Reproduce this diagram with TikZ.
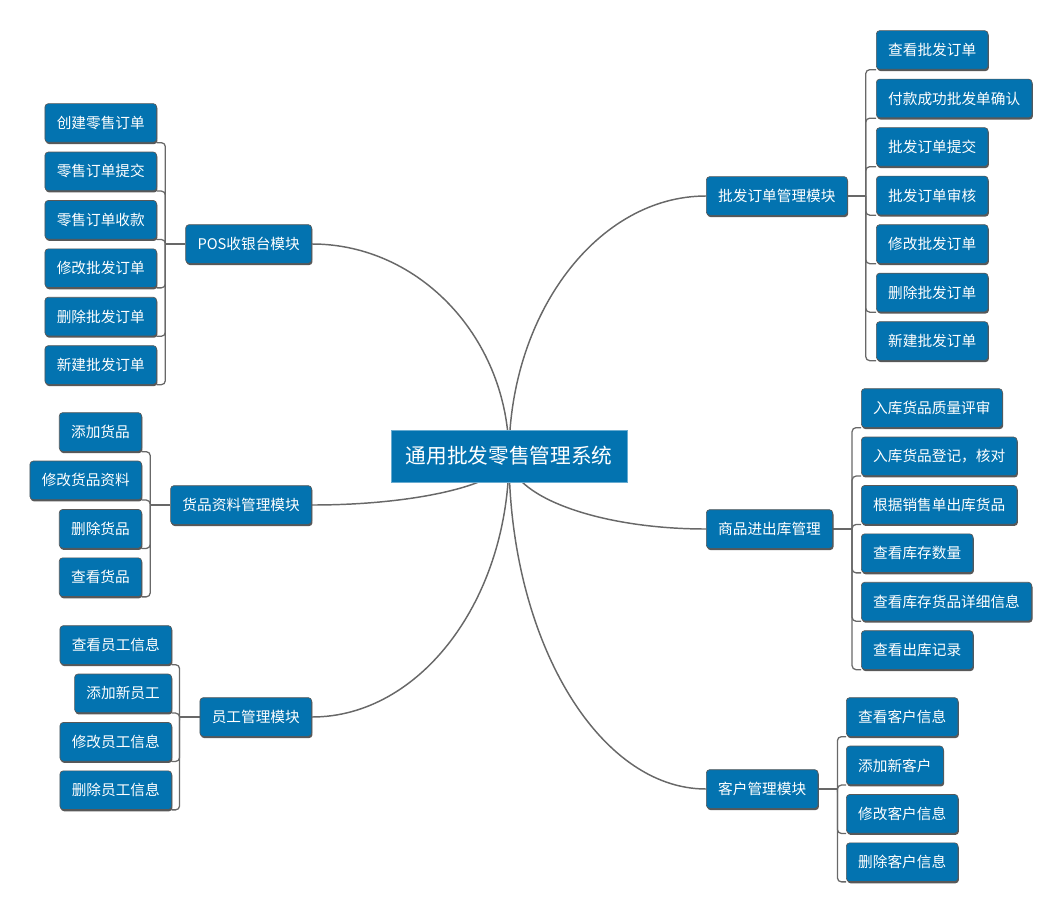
\documentclass[tikz,border=0pt]{standalone}
\usepackage{fontspec}
\setmainfont{Noto Sans CJK SC}
\usetikzlibrary{shadows,calc,backgrounds}
\definecolor{boxblue}{RGB}{3,115,176}
\definecolor{boxedge}{RGB}{88,88,88}
\definecolor{wire}{RGB}{104,104,104}
\begin{document}
\begin{tikzpicture}[x=0.75pt,y=-0.75pt,
  topic/.style={rounded corners=2.5pt, fill=boxblue, draw=boxedge, line width=0.5pt,
    text=white, font=\fontsize{11}{13}\selectfont, minimum height=29pt,
    inner xsep=8.9pt, inner ysep=0pt,
    drop shadow={shadow xshift=0.6pt, shadow yshift=-1.3pt, fill=boxedge, opacity=1}},
  rootbox/.style={fill=boxblue, draw=boxblue!60!white, line width=0.5pt, text=white,
    font=\fontsize{15.5}{18}\selectfont, minimum width=177pt, minimum height=39pt},
  curve/.style={draw=wire, line width=1.1pt},
  bracket/.style={draw=wire, line width=0.95pt, rounded corners=3pt}]
\useasboundingbox (0,0) rectangle (1063,913);

% central topic
\node[rootbox] (root) at (509,456) {通用批发零售管理系统};

% main branches
\node[topic, anchor=east] (pos)   at (312,244) {POS收银台模块};
\node[topic, anchor=east] (goods) at (312,505) {货品资料管理模块};
\node[topic, anchor=east] (staff) at (312,717) {员工管理模块};
\node[topic, anchor=west] (whole) at (706,196) {批发订单管理模块};
\node[topic, anchor=west] (stock) at (706,529) {商品进出库管理};
\node[topic, anchor=west] (cust)  at (706,789) {客户管理模块};

% sub-topics
\foreach \t [count=\i] in {创建零售订单,零售订单提交,零售订单收款,修改批发订单,删除批发订单,新建批发订单}
  \node[topic, anchor=east] (pos\i) at (157,{123+(\i-1)*48.4}) {\t};
\foreach \t [count=\i] in {添加货品,修改货品资料,删除货品,查看货品}
  \node[topic, anchor=east] (goods\i) at (142,{432+(\i-1)*48.4}) {\t};
\foreach \t [count=\i] in {查看员工信息,添加新员工,修改员工信息,删除员工信息}
  \node[topic, anchor=east] (staff\i) at (172,{645+(\i-1)*48.4}) {\t};
\foreach \t [count=\i] in {查看批发订单,付款成功批发单确认,批发订单提交,批发订单审核,修改批发订单,删除批发订单,新建批发订单}
  \node[topic, anchor=west] (whole\i) at (876,{50+(\i-1)*48.5}) {\t};
\foreach \t [count=\i] in {入库货品质量评审,入库货品登记，核对,根据销售单出库货品,查看库存数量,查看库存货品详细信息,查看出库记录}
  \node[topic, anchor=west] (stock\i) at (861,{408+(\i-1)*48.4}) {\t};
\foreach \t [count=\i] in {查看客户信息,添加新客户,修改客户信息,删除客户信息}
  \node[topic, anchor=west] (cust\i) at (846,{717+(\i-1)*48.4}) {\t};

% junction points of the brackets
\coordinate (posJ)   at ($(pos.west)+(-20,0)$);
\coordinate (goodsJ) at ($(goods.west)+(-20,0)$);
\coordinate (staffJ) at ($(staff.west)+(-20,0)$);
\coordinate (wholeJ) at ($(whole.east)+(18,0)$);
\coordinate (stockJ) at ($(stock.east)+(19,0)$);
\coordinate (custJ)  at ($(cust.east)+(19,0)$);

\begin{scope}[on background layer]
  % curved links from the central topic
  \draw[curve] (root.center) .. controls +(0,-117) and +(108,0) .. (pos.east);
  \draw[curve] (root.center) .. controls +(0,27) and +(108,0) .. (goods.east);
  \draw[curve] (root.center) .. controls +(0,144) and +(108,0) .. (staff.east);
  \draw[curve] (root.center) .. controls +(0,-143) and +(-108,0) .. (whole.west);
  \draw[curve] (root.center) .. controls +(0,40) and +(-108,0) .. (stock.west);
  \draw[curve] (root.center) .. controls +(0,183) and +(-108,0) .. (cust.west);

  % brackets to sub-topics
  \draw[bracket] (pos.west) -- (posJ);
  \foreach \i in {1,...,6} \draw[bracket] (posJ) |- (pos\i.south east);
  \draw[bracket] (goods.west) -- (goodsJ);
  \foreach \i in {1,...,4} \draw[bracket] (goodsJ) |- (goods\i.south east);
  \draw[bracket] (staff.west) -- (staffJ);
  \foreach \i in {1,...,4} \draw[bracket] (staffJ) |- (staff\i.south east);
  \draw[bracket] (whole.east) -- (wholeJ);
  \foreach \i in {1,...,7} \draw[bracket] (wholeJ) |- (whole\i.south west);
  \draw[bracket] (stock.east) -- (stockJ);
  \foreach \i in {1,...,6} \draw[bracket] (stockJ) |- (stock\i.south west);
  \draw[bracket] (cust.east) -- (custJ);
  \foreach \i in {1,...,4} \draw[bracket] (custJ) |- (cust\i.south west);
\end{scope}
\end{tikzpicture}
\end{document}
